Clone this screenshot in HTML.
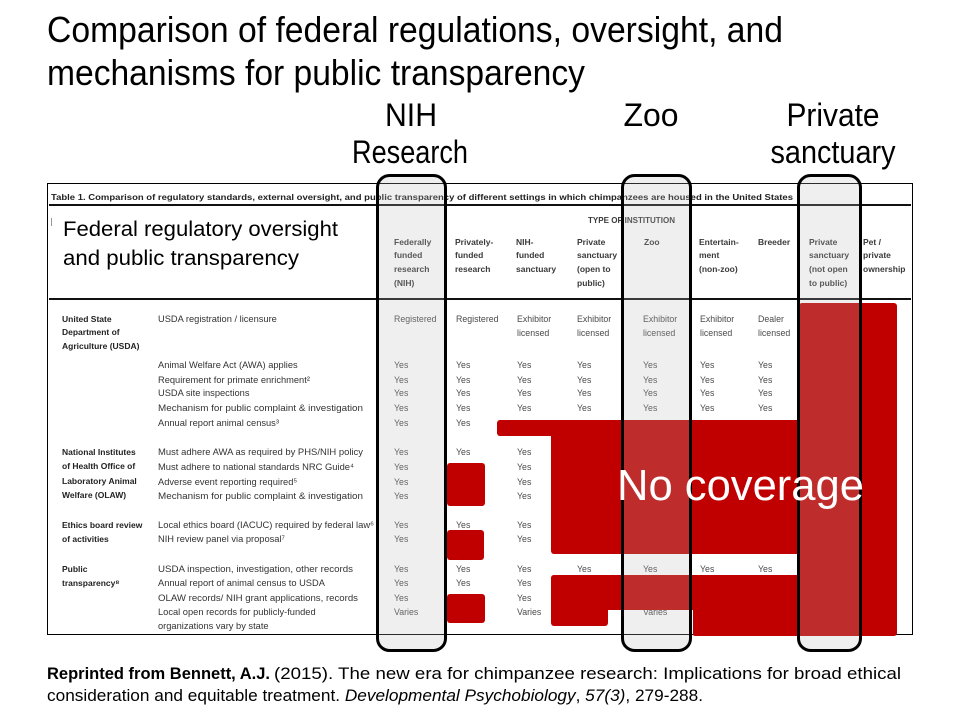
<!DOCTYPE html>
<html>
<head>
<meta charset="utf-8">
<style>
  html, body { margin:0; padding:0; background:#ffffff; }
  body { width:960px; height:720px; overflow:hidden; }
  svg { display:block; }
  .t { font-family:"Liberation Sans", Arial, sans-serif; }
  .tb { font-family:"Liberation Sans", Arial, sans-serif; font-size:8.5px; }
  .cat { font-weight:bold; fill:#222; }
  .item { fill:#333; font-size:9.3px; }
  .val { fill:#4a4a4a; font-size:8.8px; }
  .hd { font-weight:bold; fill:#3a3a3a; }
</style>
</head>
<body>
<svg width="960" height="720" viewBox="0 0 960 720" xmlns="http://www.w3.org/2000/svg">
  <rect x="0" y="0" width="960" height="720" fill="#ffffff"/>

  <!-- Slide title -->
  <text class="t" transform="translate(47,42) scale(1,1.05)" x="0" y="0" font-size="34" fill="#000" textLength="736" lengthAdjust="spacingAndGlyphs">Comparison of federal regulations, oversight, and</text>
  <text class="t" transform="translate(47,85) scale(1,1.05)" x="0" y="0" font-size="34" fill="#000" textLength="538" lengthAdjust="spacingAndGlyphs">mechanisms for public transparency</text>

  <!-- Column labels -->
  <text class="t" transform="translate(411,126) scale(1,1.05)" x="0" y="0" font-size="31" fill="#000" text-anchor="middle" textLength="52" lengthAdjust="spacingAndGlyphs">NIH</text>
  <text class="t" transform="translate(410,163) scale(1,1.05)" x="0" y="0" font-size="31" fill="#000" text-anchor="middle" textLength="116" lengthAdjust="spacingAndGlyphs">Research</text>
  <text class="t" transform="translate(651,126) scale(1,1.05)" x="0" y="0" font-size="31" fill="#000" text-anchor="middle" textLength="55" lengthAdjust="spacingAndGlyphs">Zoo</text>
  <text class="t" transform="translate(833,126) scale(1,1.05)" x="0" y="0" font-size="31" fill="#000" text-anchor="middle" textLength="93" lengthAdjust="spacingAndGlyphs">Private</text>
  <text class="t" transform="translate(833,163) scale(1,1.05)" x="0" y="0" font-size="31" fill="#000" text-anchor="middle" textLength="125" lengthAdjust="spacingAndGlyphs">sanctuary</text>

  <!-- Table box -->
  <rect x="47.5" y="183.5" width="865" height="451" fill="#ffffff" stroke="#000" stroke-width="1"/>
  <text class="tb" x="51" y="200" font-weight="bold" fill="#222" textLength="742" lengthAdjust="spacingAndGlyphs">Table 1.  Comparison of regulatory standards, external oversight, and public transparency of different settings in which chimpanzees are housed in the United States</text>
  <rect x="49" y="204" width="862" height="2" fill="#111"/>
  <rect x="49" y="298" width="862" height="2" fill="#111"/>

  <!-- remnant tick -->
  <rect x="51" y="218" width="1" height="8" fill="#999"/>

  <!-- Header -->
  <text class="tb hd" x="588" y="223" textLength="87" lengthAdjust="spacingAndGlyphs">TYPE OF INSTITUTION</text>
  <g class="tb hd">
    <text x="394" y="245">Federally</text><text x="394" y="258">funded</text><text x="394" y="272">research</text><text x="394" y="286">(NIH)</text>
    <text x="455" y="245">Privately-</text><text x="455" y="258">funded</text><text x="455" y="272">research</text>
    <text x="516" y="245">NIH-</text><text x="516" y="258">funded</text><text x="516" y="272">sanctuary</text>
    <text x="577" y="245">Private</text><text x="577" y="258">sanctuary</text><text x="577" y="272">(open to</text><text x="577" y="286">public)</text>
    <text x="644" y="245">Zoo</text>
    <text x="699" y="245">Entertain-</text><text x="699" y="258">ment</text><text x="699" y="272">(non-zoo)</text>
    <text x="758" y="245">Breeder</text>
    <text x="809" y="245">Private</text><text x="809" y="258">sanctuary</text><text x="809" y="272">(not open</text><text x="809" y="286">to public)</text>
    <text x="863" y="245">Pet /</text><text x="863" y="258">private</text><text x="863" y="272">ownership</text>
  </g>

  <!-- Category labels -->
  <g class="tb cat">
    <text x="62" y="322">United State</text>
    <text x="62" y="335">Department of</text>
    <text x="62" y="349">Agriculture (USDA)</text>
    <text x="62" y="455">National Institutes</text>
    <text x="62" y="469">of Health Office of</text>
    <text x="62" y="484">Laboratory  Animal</text>
    <text x="62" y="498">Welfare (OLAW)</text>
    <text x="62" y="528">Ethics board review</text>
    <text x="62" y="542">of activities</text>
    <text x="62" y="572">Public</text>
    <text x="62" y="586">transparency⁸</text>
  </g>

  <!-- Item labels -->
  <g class="tb item">
    <text x="158" y="322">USDA registration / licensure</text>
    <text x="158" y="368">Animal Welfare Act (AWA) applies</text>
    <text x="158" y="383">Requirement for primate  enrichment²</text>
    <text x="158" y="396">USDA site inspections</text>
    <text x="158" y="411" textLength="205" lengthAdjust="spacingAndGlyphs">Mechanism for public complaint &amp; investigation</text>
    <text x="158" y="426">Annual report animal census³</text>
    <text x="158" y="455" textLength="205" lengthAdjust="spacingAndGlyphs">Must adhere AWA as required by PHS/NIH policy</text>
    <text x="158" y="470" textLength="196" lengthAdjust="spacingAndGlyphs">Must adhere to national standards NRC Guide⁴</text>
    <text x="158" y="485">Adverse event reporting required⁵</text>
    <text x="158" y="499" textLength="205" lengthAdjust="spacingAndGlyphs">Mechanism for public complaint &amp; investigation</text>
    <text x="158" y="528" textLength="216" lengthAdjust="spacingAndGlyphs">Local ethics board (IACUC) required by federal law⁶</text>
    <text x="158" y="542">NIH review panel via proposal⁷</text>
    <text x="158" y="572" textLength="195" lengthAdjust="spacingAndGlyphs">USDA inspection, investigation, other records</text>
    <text x="158" y="586">Annual report of animal census to USDA</text>
    <text x="158" y="601" textLength="200" lengthAdjust="spacingAndGlyphs">OLAW records/ NIH grant applications, records</text>
    <text x="158" y="615">Local open records for publicly-funded</text>
    <text x="158" y="629">organizations vary by state</text>
  </g>

  <!-- Values -->
  <g class="tb val">
    <text x="394" y="322">Registered</text>
    <text x="456" y="322">Registered</text>
    <text x="517" y="322">Exhibitor</text><text x="517" y="336">licensed</text>
    <text x="577" y="322">Exhibitor</text><text x="577" y="336">licensed</text>
    <text x="643" y="322">Exhibitor</text><text x="643" y="336">licensed</text>
    <text x="700" y="322">Exhibitor</text><text x="700" y="336">licensed</text>
    <text x="758" y="322">Dealer</text><text x="758" y="336">licensed</text>

    <text x="394" y="368">Yes</text><text x="456" y="368">Yes</text><text x="517" y="368">Yes</text><text x="577" y="368">Yes</text><text x="643" y="368">Yes</text><text x="700" y="368">Yes</text><text x="758" y="368">Yes</text>
    <text x="394" y="383">Yes</text><text x="456" y="383">Yes</text><text x="517" y="383">Yes</text><text x="577" y="383">Yes</text><text x="643" y="383">Yes</text><text x="700" y="383">Yes</text><text x="758" y="383">Yes</text>
    <text x="394" y="396">Yes</text><text x="456" y="396">Yes</text><text x="517" y="396">Yes</text><text x="577" y="396">Yes</text><text x="643" y="396">Yes</text><text x="700" y="396">Yes</text><text x="758" y="396">Yes</text>
    <text x="394" y="411">Yes</text><text x="456" y="411">Yes</text><text x="517" y="411">Yes</text><text x="577" y="411">Yes</text><text x="643" y="411">Yes</text><text x="700" y="411">Yes</text><text x="758" y="411">Yes</text>
    <text x="394" y="426">Yes</text><text x="456" y="426">Yes</text>

    <text x="394" y="455">Yes</text><text x="456" y="455">Yes</text><text x="517" y="455">Yes</text>
    <text x="394" y="470">Yes</text><text x="517" y="470">Yes</text>
    <text x="394" y="485">Yes</text><text x="517" y="485">Yes</text>
    <text x="394" y="499">Yes</text><text x="517" y="499">Yes</text>

    <text x="394" y="528">Yes</text><text x="456" y="528">Yes</text><text x="517" y="528">Yes</text>
    <text x="394" y="542">Yes</text><text x="517" y="542">Yes</text>

    <text x="394" y="572">Yes</text><text x="456" y="572">Yes</text><text x="517" y="572">Yes</text><text x="577" y="572">Yes</text><text x="643" y="572">Yes</text><text x="700" y="572">Yes</text><text x="758" y="572">Yes</text>
    <text x="394" y="586">Yes</text><text x="456" y="586">Yes</text><text x="517" y="586">Yes</text>
    <text x="394" y="601">Yes</text><text x="517" y="601">Yes</text>
    <text x="394" y="615">Varies</text><text x="517" y="615">Varies</text><text x="643" y="615">Varies</text>
  </g>

  <!-- Red "no coverage" shapes -->
  <g fill="#c00000">
    <rect x="497" y="420" width="111" height="16" rx="3"/>
    <rect x="551" y="420" width="252" height="134" rx="3"/>
    <rect x="799" y="303" width="98" height="333" rx="3"/>
    <rect x="551" y="575" width="252" height="35" rx="3"/>
    <rect x="551" y="575" width="57" height="51" rx="3"/>
    <rect x="693" y="575" width="110" height="61" rx="2"/>
    <rect x="447" y="463" width="38" height="43" rx="3"/>
    <rect x="447" y="530" width="37" height="30" rx="3"/>
    <rect x="447" y="594" width="38" height="29" rx="3"/>
  </g>

  <!-- Big label over table header -->
  <text class="t" x="63" y="236" font-size="21" fill="#000" textLength="275" lengthAdjust="spacingAndGlyphs">Federal regulatory oversight</text>
  <text class="t" x="63" y="265" font-size="21" fill="#000" textLength="236" lengthAdjust="spacingAndGlyphs">and public transparency</text>

  <!-- Highlight columns -->
  <g fill="rgba(187,187,187,0.235)" stroke="#000" stroke-width="3">
    <rect x="377.5" y="175.5" width="68" height="475" rx="12"/>
    <rect x="622.5" y="175.5" width="68" height="475" rx="12"/>
    <rect x="798.5" y="175.5" width="62" height="475" rx="12"/>
  </g>

  <!-- No coverage -->
  <text class="t" x="617" y="500" font-size="44" fill="#ffffff" textLength="247" lengthAdjust="spacingAndGlyphs">No coverage</text>

  <!-- Citation -->
  <text class="t" x="47" y="679" font-size="17" font-weight="bold" fill="#000" textLength="223" lengthAdjust="spacingAndGlyphs">Reprinted from Bennett, A.J.</text>
  <text class="t" x="274" y="679" font-size="17" fill="#000" textLength="627" lengthAdjust="spacingAndGlyphs">(2015). The new era for chimpanzee research: Implications for broad ethical</text>
  <text class="t" x="47" y="701" font-size="17" fill="#000" textLength="656" lengthAdjust="spacingAndGlyphs">consideration and equitable  treatment. <tspan font-style="italic">Developmental Psychobiology</tspan>, <tspan font-style="italic">57(3)</tspan>, 279-288.</text>
</svg>
</body>
</html>
